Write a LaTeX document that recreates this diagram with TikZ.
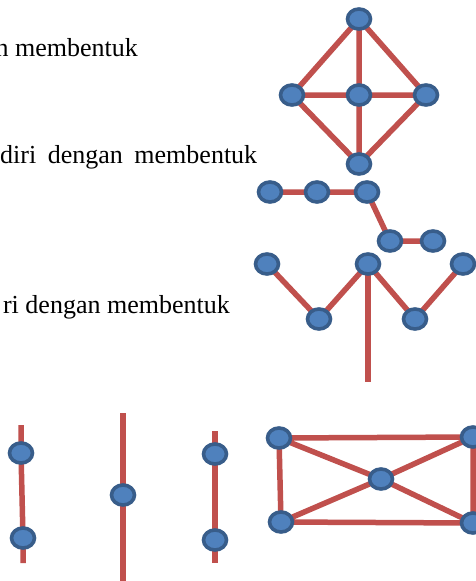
\documentclass[tikz,border=0pt]{standalone}
\usepackage{fontspec}
\setmainfont{Liberation Serif}
\usetikzlibrary{shapes.geometric,backgrounds}
\definecolor{edgecol}{HTML}{C0504D}
\definecolor{nodefill}{HTML}{4F81BD}
\definecolor{nodeborder}{HTML}{385D8A}
\begin{document}
\begin{tikzpicture}[x=1pt,y=-1pt,
  vtx/.style={ellipse, draw=nodeborder, fill=nodefill, line width=3.6pt,
    minimum width=23pt, minimum height=20pt, inner sep=0pt},
  edg/.style={draw=edgecol, line width=5.5pt},
  txt/.style={font=\fontsize{26}{30}\selectfont, inner sep=0pt, text=black}]
\useasboundingbox (0,0) rectangle (476,581);
% texts
\node[txt, anchor=base east] (t1) at (138,56) {n membentuk};
\node[txt, anchor=base west] (t2) at (0,163) {\makebox[257pt][s]{diri dengan membentuk}};
\node[txt, anchor=base east] (t3) at (230,313) {ri dengan membentuk};
% diamond graph
\node[vtx] (dt) at (359,19) {};
\node[vtx] (dl) at (292,95) {};
\node[vtx] (dc) at (359,95) {};
\node[vtx] (dr) at (426,95) {};
\node[vtx] (db) at (359,164) {};
% path graph
\node[vtx] (p1) at (270,192) {};
\node[vtx] (p2) at (317,192) {};
\node[vtx] (p3) at (367,192) {};
\node[vtx] (p4) at (390,241) {};
\node[vtx] (p5) at (433,241) {};
% W graph
\node[vtx] (w1) at (267,264) {};
\node[vtx] (w2) at (319,319) {};
\node[vtx] (w3) at (368,264) {};
\node[vtx] (w4) at (415,319) {};
\node[vtx] (w5) at (463,264) {};
\coordinate (wend) at (368,382);
% bottom graphs
\coordinate (a0) at (21,425);
\node[vtx] (a1) at (21,453) {};
\node[vtx] (a2) at (23,538) {};
\coordinate (a3) at (23,563);
\coordinate (b0) at (123,413);
\node[vtx] (b1) at (123,495) {};
\coordinate (b2) at (123,581);
\coordinate (c0) at (215,431);
\node[vtx] (c1) at (215,454) {};
\node[vtx] (c2) at (215,540) {};
\coordinate (c3) at (215,563);
\node[vtx] (q1) at (279,438) {};
\node[vtx] (q2) at (281,522) {};
\node[vtx] (q3) at (381,479) {};
\node[vtx] (q4) at (473,437) {};
\node[vtx] (q5) at (473,523) {};
\begin{pgfonlayer}{background}
\fill[white] (0,0) rectangle (476,581);
\path[edg] (dt.center) -- (dl.center) (dt.center) -- (dc.center) (dt.center) -- (dr.center)
  (dl.center) -- (dc.center) (dc.center) -- (dr.center)
  (dl.center) -- (db.center) (dc.center) -- (db.center) (dr.center) -- (db.center);
\path[edg] (p1.center) -- (p2.center) -- (p3.center) -- (p4.center) -- (p5.center);
\path[edg] (w1.center) -- (w2.center) -- (w3.center) -- (w4.center) -- (w5.center);
\path[edg] (w3.center) -- (wend);
\path[edg] (a0) -- (a1.center) -- (a2.center) -- (a3);
\path[edg] (b0) -- (b1.center) -- (b2);
\path[edg] (c0) -- (c1.center) -- (c2.center) -- (c3);
\path[edg] (q1.center) -- (q4.center) (q2.center) -- (q5.center)
  (q1.center) -- (q2.center) (q4.center) -- (q5.center)
  (q1.center) -- (q3.center) -- (q5.center) (q2.center) -- (q3.center) -- (q4.center);
\end{pgfonlayer}
\end{tikzpicture}
\end{document}
